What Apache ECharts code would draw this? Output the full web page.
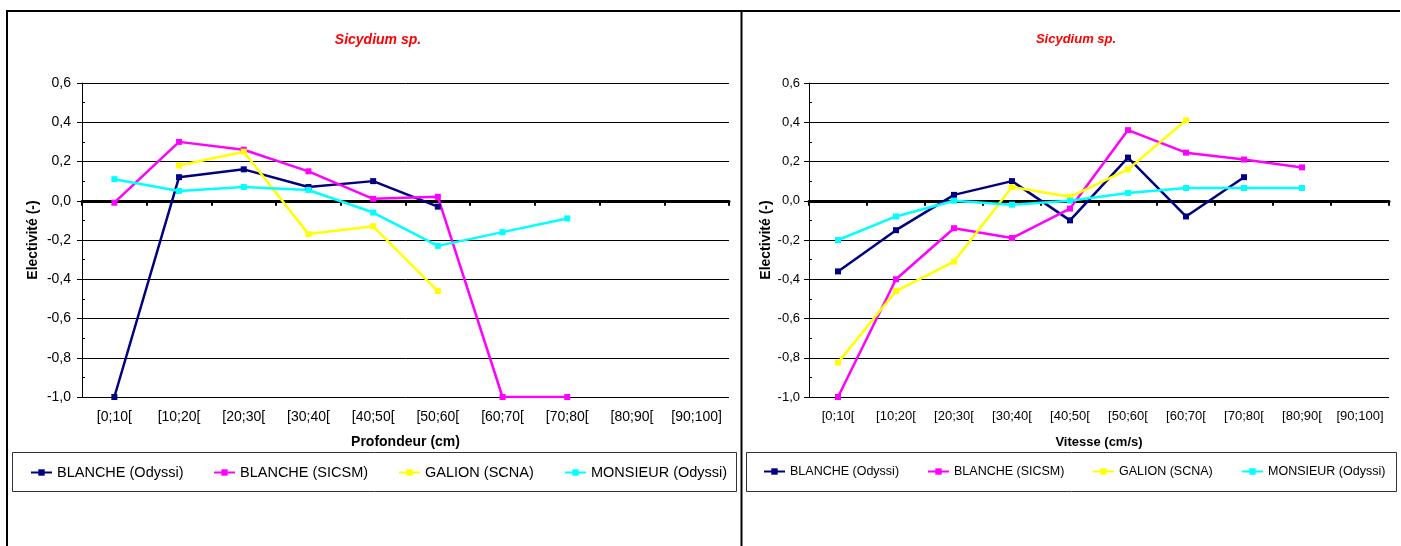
<!DOCTYPE html>
<html>
<head>
<meta charset="utf-8">
<title>Sicydium sp. – électivité</title>
<script src="https://cdn.jsdelivr.net/npm/echarts@6/dist/echarts.min.js"></script>
<style>
  html, body { margin: 0; padding: 0; background: #fff; }
  #chart { width: 1401px; height: 546px; }
</style>
</head>
<body>
<div id="chart"></div>
<script>
// Class intervals shared by both panels
const intervalLabels = ['[0;10[', '[10;20[', '[20;30[', '[30;40[', '[40;50[', '[50;60[', '[60;70[', '[70;80[', '[80;90[', '[90;100]'];

// Station names
const stationNames = ['BLANCHE (Odyssi)', 'BLANCHE (SICSM)', 'GALION (SCNA)', 'MONSIEUR (Odyssi)'];
const stationColors = ['#000080', '#FF00FF', '#FFFF00', '#00FFFF'];

// Electivity by depth class (Profondeur, cm)
const depthBlancheOdyssi = [-1.0, 0.12, 0.16, 0.07, 0.10, -0.03, null, null, null, null];
const depthBlancheSicsm  = [-0.01, 0.30, 0.26, 0.15, 0.01, 0.02, -1.0, -1.0, null, null];
const depthGalionScna    = [null, 0.18, 0.25, -0.17, -0.13, -0.46, null, null, null, null];
const depthMonsieurOdyssi = [0.11, 0.05, 0.07, 0.055, -0.06, -0.23, -0.16, -0.09, null, null];

// Electivity by current speed class (Vitesse, cm/s)
const speedBlancheOdyssi = [-0.36, -0.15, 0.03, 0.10, -0.10, 0.22, -0.08, 0.12, null, null];
const speedBlancheSicsm  = [-1.0, -0.40, -0.14, -0.19, -0.04, 0.36, 0.245, 0.21, 0.17, null];
const speedGalionScna    = [-0.825, -0.46, -0.31, 0.07, 0.02, 0.16, 0.41, null, null, null];
const speedMonsieurOdyssi = [-0.20, -0.08, 0.00, -0.02, 0.00, 0.04, 0.065, 0.065, 0.065, null];

// Y axis range
const yMin = -1.0, yMax = 0.6, yStep = 0.2;

const FONT = '"Liberation Sans", Arial, sans-serif';
const fmt = v => v.toFixed(1).replace('.', ',');

const chart = echarts.init(document.getElementById('chart'), null, { renderer: 'canvas' });

const panels = [
  { grid: { left: 82, top: 83, width: 647, height: 314 }, center: 373, fs: 14, legendFs: 14.5,
    xName: 'Profondeur (cm)', yGap: 42, xGap: 38, yLabelMargin: 11,
    data: [depthBlancheOdyssi, depthBlancheSicsm, depthGalionScna, depthMonsieurOdyssi],
    legendLeft: [30, 213, 398, 564] },
  { grid: { left: 809, top: 83, width: 580, height: 314 }, center: 1071, fs: 13, legendFs: 12.5,
    xName: 'Vitesse (cm/s)', yGap: 36, xGap: 39, yLabelMargin: 9,
    data: [speedBlancheOdyssi, speedBlancheSicsm, speedGalionScna, speedMonsieurOdyssi],
    legendLeft: [763, 927, 1092, 1241] }
];

const option = {
  backgroundColor: '#fff',
  animation: false,
  title: [], grid: [], xAxis: [], yAxis: [], series: [], legend: [],
  graphic: []
};

panels.forEach((p, i) => {
  option.title.push({
    text: 'Sicydium sp.', left: p.center, top: 28, textAlign: 'center',
    textStyle: { color: '#FF0000', fontStyle: 'italic', fontWeight: 'bold', fontSize: p.fs, fontFamily: FONT }
  });
  option.grid.push(Object.assign({ containLabel: false }, p.grid));

  // category labels along the bottom of the plot
  option.xAxis.push({
    type: 'category', gridIndex: i, data: intervalLabels, position: 'bottom', boundaryGap: true,
    axisLine: { show: false, onZero: false }, axisTick: { show: false },
    axisLabel: { interval: 0, margin: 13, color: '#000', fontSize: p.fs, fontFamily: FONT },
    name: p.xName, nameLocation: 'middle', nameGap: p.xGap,
    nameTextStyle: { color: '#000', fontWeight: 'bold', fontSize: p.fs, fontFamily: FONT },
    splitLine: { show: false }
  });
  // heavy zero line with boundary ticks
  option.xAxis.push({
    type: 'category', gridIndex: i, data: intervalLabels, position: 'bottom', boundaryGap: true,
    axisLine: { show: true, onZero: true, lineStyle: { color: '#000', width: 3 } },
    axisTick: { show: true, interval: 0, length: 5, lineStyle: { color: '#000', width: 2 } },
    axisLabel: { show: false }, splitLine: { show: false }
  });

  // main value axis
  option.yAxis.push({
    type: 'value', gridIndex: i, min: yMin, max: yMax, interval: yStep, position: 'left',
    axisLine: { show: true, lineStyle: { color: '#000', width: 1 } },
    axisTick: { show: true, length: 5, lineStyle: { color: '#000' } },
    axisLabel: { formatter: fmt, margin: p.yLabelMargin, color: '#000', fontSize: p.fs, fontFamily: FONT },
    splitLine: { show: true, lineStyle: { color: '#000', width: 1 } },
    name: 'Electivité (-)', nameLocation: 'middle', nameGap: p.yGap, nameRotate: 90,
    nameTextStyle: { color: '#000', fontWeight: 'bold', fontSize: 14, fontFamily: FONT }
  });
  // minor ticks on the inner side
  option.yAxis.push({
    type: 'value', gridIndex: i, min: yMin, max: yMax, interval: 0.1, position: 'left',
    axisLine: { show: false }, axisLabel: { show: false }, splitLine: { show: false },
    axisTick: { show: true, inside: true, length: 3, lineStyle: { color: '#000' } }
  });

  p.data.forEach((vals, k) => {
    option.series.push({
      name: stationNames[k], type: 'line', xAxisIndex: 2 * i, yAxisIndex: 2 * i,
      data: vals, connectNulls: false,
      symbol: 'rect', symbolSize: 6, showSymbol: true,
      lineStyle: { color: stationColors[k], width: 2.5 },
      itemStyle: { color: stationColors[k] }
    });
    option.legend.push({
      data: [stationNames[k]], left: p.legendLeft[k], top: 465, padding: 0,
      itemWidth: 21, itemHeight: 8, itemGap: 0,
      textStyle: { color: '#000', fontSize: p.legendFs, fontFamily: FONT }
    });
  });
});

// panel frames and legend boxes
option.graphic = [
  { type: 'line', shape: { x1: 6, y1: 11, x2: 1400, y2: 11 }, style: { stroke: '#000', lineWidth: 2 } },
  { type: 'line', shape: { x1: 7, y1: 10, x2: 7, y2: 546 }, style: { stroke: '#000', lineWidth: 2 } },
  { type: 'line', shape: { x1: 741.5, y1: 10, x2: 741.5, y2: 546 }, style: { stroke: '#000', lineWidth: 2 } },
  { type: 'rect', shape: { x: 12.5, y: 452.5, width: 724, height: 39 }, style: { fill: 'none', stroke: '#333', lineWidth: 1 } },
  { type: 'rect', shape: { x: 746.5, y: 452.5, width: 650, height: 39 }, style: { fill: 'none', stroke: '#333', lineWidth: 1 } }
];

chart.setOption(option);
</script>
</body>
</html>
